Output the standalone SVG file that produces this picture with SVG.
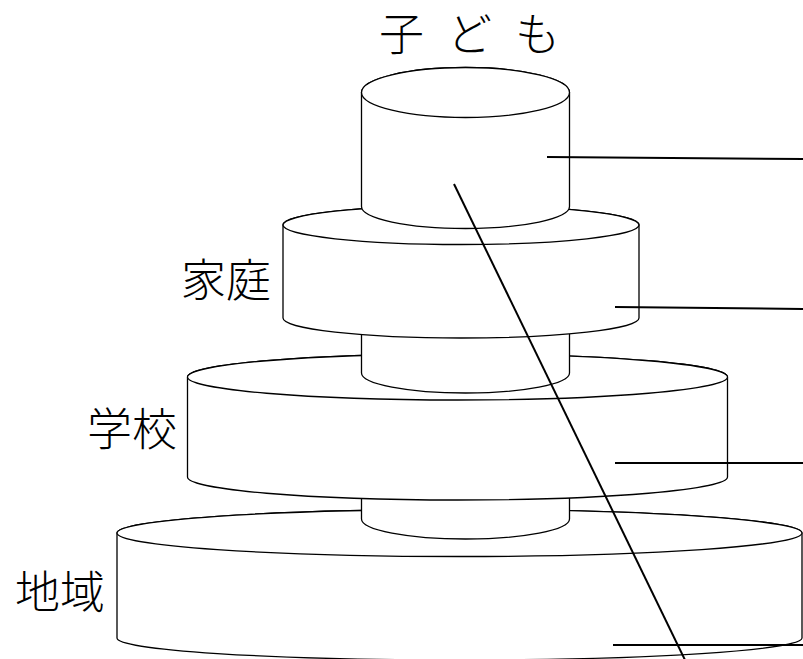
<svg xmlns="http://www.w3.org/2000/svg" width="803" height="659" viewBox="0 0 803 659">
<style>
.cyl{fill:#fff;stroke:#000;stroke-width:1.3}
.lbl{font-family:"Noto Sans CJK JP","Noto Sans",sans-serif;font-size:45px;font-weight:300;fill:#000}
.ln{stroke:#000;stroke-width:2;fill:none}
</style>
<rect width="803" height="659" fill="#fff"/>
<g id="chiiki">
<path class="cyl" d="M117,533 V638 A342.5,22 0 0 0 802,638 V533 A342.5,23.5 0 0 0 117,533 Z"/>
<ellipse class="cyl" cx="459.5" cy="533" rx="342.5" ry="23.5"/>
<text class="lbl" x="105" y="609" text-anchor="end">地域</text>
</g>
<g id="link2">
<path class="cyl" d="M361.5,470 V519 A104,20 0 0 0 569.5,519 V470 Z"/>
</g>
<g id="gakkou">
<path class="cyl" d="M187.5,377 V477 A270,23 0 0 0 727.5,477 V377 A270,23 0 0 0 187.5,377 Z"/>
<ellipse class="cyl" cx="457.5" cy="377" rx="270" ry="23"/>
<text class="lbl" x="177" y="446" text-anchor="end">学校</text>
</g>
<g id="link1">
<path class="cyl" d="M361.5,320 V373 A104,20 0 0 0 569.5,373 V320 Z"/>
</g>
<g id="katei">
<path class="cyl" d="M283,225 V318 A178,20 0 0 0 639,318 V225 A178,19.5 0 0 0 283,225 Z"/>
<ellipse class="cyl" cx="461" cy="225" rx="178" ry="19.5"/>
<text class="lbl" x="271" y="297" text-anchor="end">家庭</text>
</g>
<g id="kodomo">
<path class="cyl" d="M361.5,92.5 V206.5 A104,22 0 0 0 569.5,206.5 V92.5 A104,25 0 0 0 361.5,92.5 Z"/>
<ellipse class="cyl" cx="465.5" cy="92.5" rx="104" ry="25"/>
<text class="lbl" x="379" y="51" letter-spacing="23">子ども</text>
</g>
<g id="connectors">
<line class="ln" x1="454" y1="184" x2="685" y2="660"/>
<line class="ln" x1="547" y1="157" x2="803" y2="159"/>
<line class="ln" x1="615" y1="307" x2="803" y2="309"/>
<line class="ln" x1="615" y1="463" x2="803" y2="463"/>
<line class="ln" x1="613" y1="645" x2="803" y2="645"/>
</g>
</svg>
